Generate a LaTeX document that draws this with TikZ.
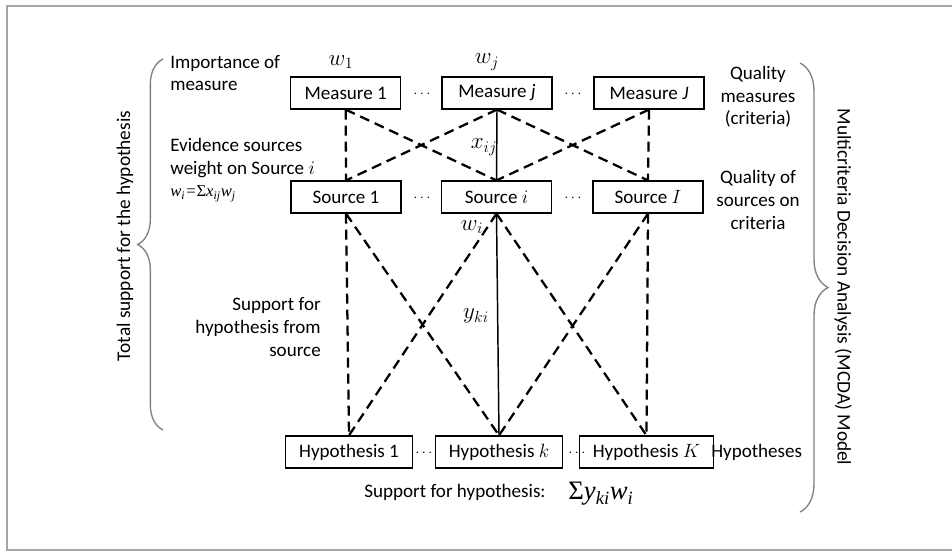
\documentclass[tikz,border=0pt]{standalone}
\usepackage{fontspec}
\setmainfont{Carlito}
\newfontfamily\serifit{Liberation Serif}[ItalicFont=* Italic]
\usetikzlibrary{decorations.pathreplacing,positioning}

\begin{document}
\begin{tikzpicture}[
  x=0.75pt,y=-0.75pt,
  font=\fontsize{14.3}{17}\selectfont,
  box/.style={draw,line width=0.9pt,minimum height=24pt,inner xsep=9.5pt,inner ysep=0pt},
  mbox/.style={box,minimum width=82.5pt},
  hbox/.style={box,inner xsep=10pt},
  gap/.style={inner sep=0pt,font=\fontsize{11}{11}\selectfont},
  link/.style={line width=1.7pt,dash pattern=on 7.5pt off 4.5pt},
  main/.style={line width=1.1pt},
  note/.style={align=left,inner sep=0pt},
  mlabel/.style={inner sep=0pt,font=\fontsize{17}{20}\selectfont},
  side/.style={inner sep=0pt,font=\fontsize{14.5}{17}\selectfont},
  bracket/.style={draw=gray,line width=1pt,decorate,decoration={brace,amplitude=#1}}
]
\useasboundingbox (0,0) rectangle (952,551);
\draw[gray!70,line width=0.9pt] (7,6) rectangle (953,550);

% rows
\node[mbox] (m1) at (345.7,93) {Measure 1};
\node[mbox] (mj) at (497,93) {Measure \textit{j}};
\node[mbox] (mJ) at (649,93) {Measure \textit{J}};
\node[mbox] (s1) at (346,197) {Source 1};
\node[mbox] (si) at (496.5,197) {Source $i$};
\node[mbox] (sI) at (648,197) {Source $I$};
\node[hbox] (h1) at (349,452) {Hypothesis 1};
\node[hbox] (hk) at (499,452) {Hypothesis $k$};
\node[hbox] (hK) at (646.5,452) {Hypothesis $K$};
\node[gap] (gm1) at (422,94) {$\cdots$};
\node[gap] (gm2) at (573,94) {$\cdots$};
\node[gap] (gs1) at (422,198) {$\cdots$};
\node[gap] (gs2) at (573,198) {$\cdots$};
\node[gap] (gh1) at (424,453) {$\cdots$};
\node[gap] (gh2) at (577,453) {$\cdots$};

% measures to sources
\draw[link] (m1.south) -- (s1.north);
\draw[link] (m1.south) -- (si.north);
\draw[link] (mj.south) -- (s1.north);
\draw[main] (mj.south) -- (si.north);
\draw[link] (mj.south) -- (sI.north);
\draw[link] (mJ.south) -- (si.north);
\draw[link] (mJ.south) -- (sI.north);
% sources to hypotheses
\draw[link] (s1.south) -- (h1.north);
\draw[link] (s1.south) -- (hk.north);
\draw[link] (si.south) -- (h1.north);
\draw[main] (si.south) -- (hk.north);
\draw[link] (si.south) -- (hK.north);
\draw[link] (sI.south) -- (hk.north);
\draw[link] (sI.south) -- (hK.north);

% weights
\node[mlabel] (w1) at (341,62) {$w_1$};
\node[mlabel] (wj) at (487,62) {$w_j$};
\node[mlabel] (xij) at (484,147) {$x_{ij}$};
\node[mlabel] (wi) at (472,227) {$w_i$};
\node[mlabel] (yki) at (476,316) {$y_{ki}$};

% notes
\node[note,anchor=west] (imp) at (170,73) {Importance of\\measure};
\node[note,anchor=west] (evid) at (170,170) {Evidence sources\\weight on Source $i$\\{\serifit\itshape\fontsize{12.5}{14}\selectfont w\textsubscript{i}={\upshape Σ}x\textsubscript{ij}w\textsubscript{j}}};
\node[note,align=right,anchor=east] (supsrc) at (321,327) {Support for\\hypothesis from\\source};
\node[align=center,inner sep=0pt] (qm) at (758,97) {Quality\\measures\\(criteria)};
\node[align=center,inner sep=0pt] (qs) at (758,200) {Quality of\\sources on\\criteria};
\node[inner sep=0pt,anchor=west] (hyps) at (711,452) {Hypotheses};
\node[inner sep=0pt] (suph) at (455,492) {Support for hypothesis:};
\node[inner sep=0pt,font=\serifit\itshape\fontsize{20}{22}\selectfont] (sumf) at (601,494) {{\upshape Σ}y\textsubscript{ki}w\textsubscript{i}};

% braces
\coordinate (lb1) at (163,430);
\coordinate (lb2) at (163,59);
\coordinate (rb1) at (800,63);
\coordinate (rb2) at (800,512);
\draw[bracket=19pt] (lb1) -- (lb2);
\draw[bracket=21pt] (rb1) -- (rb2);
\node[side,rotate=90] (total) at (125,236) {Total support for the hypothesis};
\node[side,rotate=-90] (mcda) at (843,287) {Multicriteria Decision Analysis (MCDA) Model};
\end{tikzpicture}
\end{document}
